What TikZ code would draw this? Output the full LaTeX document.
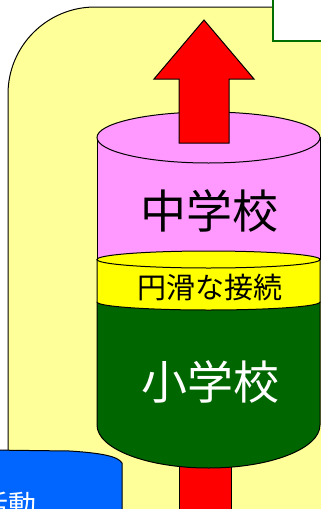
\documentclass[tikz,border=0pt]{standalone}
\usepackage{fontspec}
\newfontfamily\jp{Noto Sans CJK JP}
\definecolor{bgyellow}{RGB}{255,255,153}
\definecolor{pinkc}{RGB}{255,153,255}
\definecolor{bandyellow}{RGB}{255,255,0}
\definecolor{darkgr}{RGB}{0,102,0}
\definecolor{boxgreen}{RGB}{0,110,0}
\definecolor{bluec}{RGB}{0,102,255}
\tikzset{
  outline/.style={draw=black, line width=1pt},
  label/.style={inner sep=0pt, font=\jp},
}
\begin{document}
\begin{tikzpicture}[x=1pt, y=-1pt]
\useasboundingbox (0,0) rectangle (321,509);
\clip (0,0) rectangle (321,509);
% background rounded panel
\draw[outline, fill=bgyellow, rounded corners=87pt] (8,7) rectangle (420,620);
% green-bordered box top right
\draw[draw=boxgreen, line width=2pt, fill=white] (273,-20) rectangle (340,41);
% blue shape bottom left
\path[outline, fill=bluec] (-10,450) -- (70,451) .. controls (100,453) and (118,456) .. (122,463) -- (122,530) -- (-10,530) -- cycle;
\node[label, text=white, font=\jp\fontsize{28}{30}\selectfont, anchor=north east] (act) at (37,492) {活動};
% lower arrow shaft
\draw[outline, fill=red] (179,440) rectangle (231,530);
% green (elementary) body
\draw[outline, fill=darkgr] (97,302) -- (97,425) arc[start angle=180, end angle=0, x radius=111.5, y radius=43] -- (320,302) -- cycle;
% yellow band
\draw[outline, fill=bandyellow] (97,259.5) -- (97,302) arc[start angle=180, end angle=0, x radius=111.5, y radius=8] -- (320,259.5) -- cycle;
% pink body
\draw[outline, fill=pinkc] (97,137.5) -- (97,259.5) -- (320,259.5) -- (320,137.5) -- cycle;
\draw[outline, fill=bandyellow] (208.5,259.5) ellipse[x radius=111.5, y radius=8.5];
% pink top ellipse
\draw[outline, fill=pinkc] (208.5,137.5) ellipse[x radius=111.5, y radius=25.5];
% upper arrow
\draw[outline, fill=red, line join=miter] (179,143) -- (179,79) -- (154,79) -- (204,20) -- (254,79) -- (229,79) -- (229,143) -- cycle;
% labels
\node[label, font=\jp\fontsize{46}{50}\selectfont] (jhs) at (209,211) {中学校};
\node[label, font=\jp\fontsize{29}{32}\selectfont] (conn) at (210,287) {円滑な接続};
\node[label, text=white, font=\jp\fontsize{46}{50}\selectfont] (es) at (210,382) {小学校};
\end{tikzpicture}
\end{document}
